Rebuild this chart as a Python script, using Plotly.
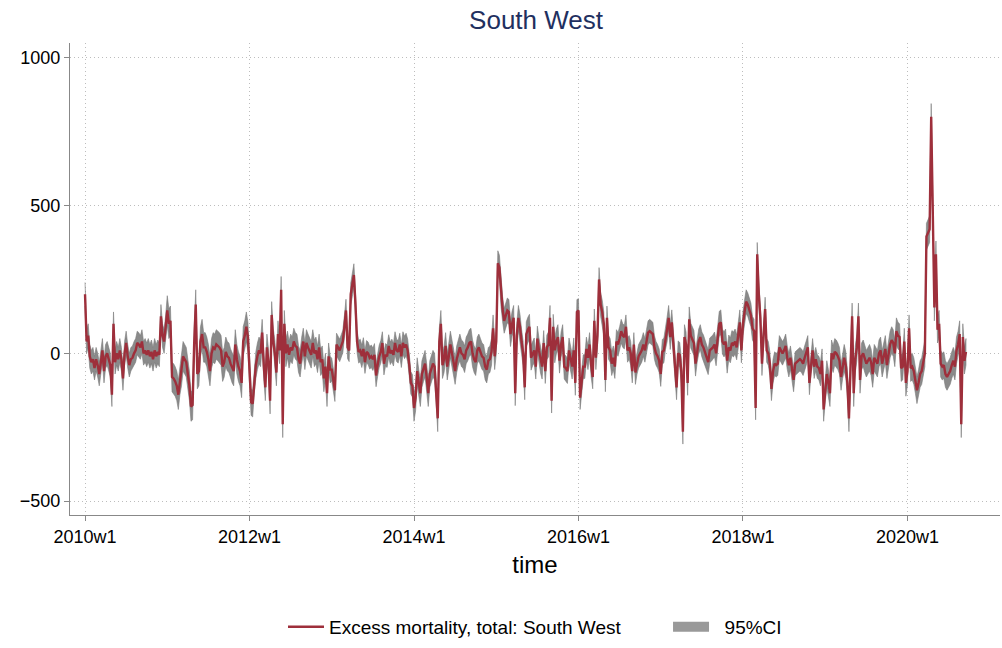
import plotly.graph_objects as go

# Surmortalité hebdomadaire estimée (South West), une liste par année
y2010 = [200, 40, 60, -10, -30, -20, -50, -20, -40, -70, -30, 10, -60, -10, 0, -20,
         -40, -140, 100, -30, 0, -20, 10, -20, -85, 0, 35, -10, -40, -20, -15, 0,
         10, 35, 30, 20, 40, 0, 10, -5, 10, -10, 5, -20, 10, -10, 5, -5, 125, 60, 40, 90]
y2011 = [145, 100, 110, -80, -85, -95, -110, -140, -90, -60, -10, -20, -30, -70, -110, -180,
         -175, 30, 165, -70, -60, 40, 65, 20, 20, 5, -20, -60, 0, 20, 15, 30,
         25, 20, 10, -45, -30, 5, -10, -15, -35, -50, -60, 30, -20, -45, -60, -100, 40, 60, 90, 55]
y2012 = [-60, -165, -170, -90, -40, -10, 10, 0, 70, -40, -115, 20, -30, -160, 130, 40,
         0, -65, 65, 10, 215, -240, 100, 0, 30, -5, 20, 10, 40, 25, 20, -20,
         -35, 10, 40, -10, 35, 20, 10, -5, 35, 0, 10, -20, 20, -30, -20, -85, -45, -135, -10, -55]
y2013 = [-55, -90, -125, 30, 20, 10, 25, 40, 90, 145, 20, 10, 200, 230, 265, 165,
         40, 5, 10, -10, 15, -30, 5, 0, -15, -10, -20, -5, -75, -40, -10, 5,
         35, -35, -5, -10, 25, 0, 10, -5, 35, 10, 5, 30, -10, 35, 20, 30, 10, -40, -100, -110]
y2014 = [-185, -150, -60, -100, -135, -70, -50, -35, -80, -135, -70, -50, -35, -45, -120, -220,
         40, 100, -40, -20, 25, -45, -10, 30, 0, -30, -60, -20, 5, 20, 0, -5,
         -20, 10, 20, 35, 40, 0, -20, -30, 10, 20, 5, -10, -15, -45, -55, -25, -20, 5, 85, -10]
y2015 = [40, 305, 290, 200, 150, 110, 130, 145, 140, 65, 100, 120, -135, 60, 120, 90,
         40, 0, -115, 65, 80, 90, -15, 0, 10, -45, 50, 10, -25, -45, 35, -60,
         20, 30, 120, -160, 90, 10, 40, 55, -25, 30, 55, -45, -50, -60, 10, -20, -45, 10, -100, 140]
y2016 = [145, -150, -90, -45, -45, 15, -15, 30, -40, -80, 110, -15, 60, 250, 165, 140,
         100, -90, 120, 20, 10, -35, -15, -45, 40, 30, 50, 75, 60, 55, 90, 10,
         20, 0, -60, 30, -65, -30, -10, 0, 10, 30, 10, 40, 70, 75, 70, 65, 20, 0, -10, -25]
y2017 = [-70, 5, 10, 55, 80, 120, 55, 105, 40, -45, -115, 0, -5, -60, -265, 55,
         30, -100, 115, 60, 45, 35, -35, 10, 40, 55, 30, 20, 0, -15, -30, 10,
         15, 20, 30, 0, 50, 100, 105, 40, 30, 40, -25, 20, 10, 35, 30, 40, 20, 60, 105, 10]
y2018 = [100, 140, 175, 165, 150, 130, 85, 75, -185, 335, 200, 120, -35, 60, 150, 10,
         0, -35, -120, -60, -35, -40, -35, 20, 10, 0, 10, 25, -15, -40, -15, -50,
         -90, -35, -30, -25, -20, -25, -35, -15, 0, 20, -100, -30, 10, -45, -20, -45, -50, -70, -25, -190]
y2019 = [-120, -70, -100, -135, 0, -20, 5, 0, -10, -25, -80, -40, -15, -40, -100, -220,
         -60, 125, -135, -20, 20, 125, -90, -10, 0, -20, -35, -25, -15, -30, -70, -15,
         -25, -35, 0, 10, -35, -10, 15, -40, 0, 30, 45, 35, 0, 75, 60, 55, -50, -45, 40, -100]
y2020 = [-60, 85, -50, -45, -60, -90, -125, -100, -70, -60, -35, 0, 395, 410, 420, 800,
         530, 155, 335, 80, 100, -35, -45, -40, -70, -80, -70, -60, -40, -25, -45, 10,
         30, 65, -240, 55, -25, 5]

# Demi-largeur approximative de l'IC à 95 % par année
ci_demi = [40, 50, 45, 38, 45, 42, 40, 42, 40, 45, 45]

semaines_ticks = [0, 104, 208, 312, 416, 520]
labels_ticks = ["2010w1", "2012w1", "2014w1", "2016w1", "2018w1", "2020w1"]

annees = [y2010, y2011, y2012, y2013, y2014, y2015, y2016, y2017, y2018, y2019, y2020]

excess, bas, haut = [], [], []
for vals, hw in zip(annees, ci_demi):
    excess += vals
    bas += [v - hw for v in vals]
    haut += [v + hw for v in vals]

semaine = list(range(len(excess)))

GRIS = "#8a8a8a"

fig = go.Figure()

# Bande IC (polygone fermé)
fig.add_trace(go.Scatter(
    x=semaine + semaine[::-1],
    y=haut + bas[::-1],
    fill="toself",
    fillcolor=GRIS,
    line=dict(color="#7a7a7a", width=0.6),
    showlegend=False,
    hoverinfo="skip"
))

fig.add_trace(go.Scatter(
    x=semaine,
    y=excess,
    mode="lines",
    line=dict(color="#9e2f3b", width=2.4),
    name="Excess mortality, total: South West" + "\u00a0" * 8,
    legendrank=1
))

# entrée de légende pour la bande (symbole plus épais)
fig.add_trace(go.Scatter(
    x=[None], y=[None],
    mode="lines",
    line=dict(color="#999999", width=16),
    name="\u00a0\u00a095%CI",
    legendrank=2
))

fig.update_layout(
    width=1002,
    height=648,
    paper_bgcolor="white",
    plot_bgcolor="white",
    font=dict(family="Liberation Sans, Arial, sans-serif", size=18, color="black"),
    title=dict(text="South West", x=0.535, xanchor="center", y=0.969, yanchor="middle",
               font=dict(size=26, color="#1f3060")),
    margin=dict(l=70, r=2, t=43, b=129),
    xaxis=dict(
        range=[-9.5, 578.5],
        tickmode="array",
        tickvals=semaines_ticks,
        ticktext=labels_ticks,
        ticks="outside", ticklen=5, tickcolor="#888",
        showline=True, linecolor="#888", linewidth=1.2,
        showgrid=True, gridcolor="#bdbdbd", griddash="1px,3px", gridwidth=1,
        zeroline=False,
        title=dict(text="time", font=dict(size=24), standoff=10)
    ),
    yaxis=dict(
        range=[-547, 1050],
        tickvals=[-500, 0, 500, 1000],
        ticks="outside", ticklen=5, tickcolor="#888",
        showline=True, linecolor="#888", linewidth=1.2,
        showgrid=True, gridcolor="#bdbdbd", griddash="1px,3px", gridwidth=1,
        zeroline=False
    ),
    legend=dict(orientation="h", x=0.5, xanchor="center", y=-0.237, yanchor="middle",
                font=dict(size=19), itemwidth=36),
    showlegend=True
)

# pas de marge par défaut autour du graphique dans la page, pas de barre d'outils
fig.write_html("out.html", config={"displayModeBar": False},
               post_script="document.body.style.margin='0px';")
